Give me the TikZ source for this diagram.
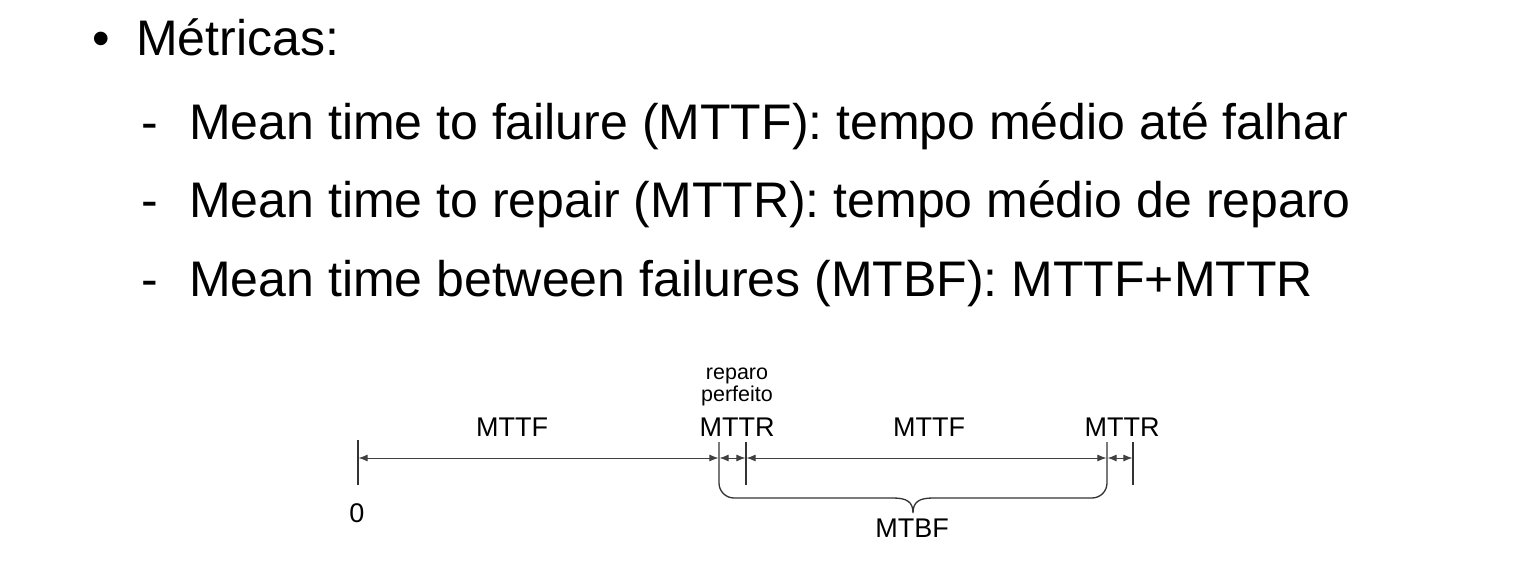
\documentclass[tikz,border=0pt]{standalone}
\usepackage{fontspec}
\setmainfont{Liberation Sans}
\usetikzlibrary{arrows.meta}
\begin{document}
\begin{tikzpicture}[x=1pt,y=-1pt,
  big/.style={inner sep=0pt,anchor=base west,font=\fontsize{50}{60}\selectfont},
  mark48/.style={inner sep=0pt,anchor=base,font=\fontsize{50}{60}\selectfont},
  lab/.style={inner sep=0pt,anchor=base,font=\fontsize{27}{32}\selectfont},
  small/.style={inner sep=0pt,anchor=base,font=\fontsize{21.5}{25}\selectfont},
  tick/.style={line width=1.3pt,draw=black!80},
  dim/.style={line width=0.9pt,draw=black!75,{Latex[length=9pt,width=7pt]}-{Latex[length=9pt,width=7pt]},shorten <=0.6pt,shorten >=0.6pt},
  brace/.style={line width=1.3pt,draw=black!80,rounded corners=15pt}]
\useasboundingbox (0,0) rectangle (1519,561);
% text
\node[mark48] (b0) at (101,56) {•};
\node[big] (t0) at (136,56) {Métricas:};
\node[mark48] (d1) at (150,140) {-};
\node[big] (t1) at (189,140) {Mean time to failure (MTTF): tempo médio até falhar};
\node[mark48] (d2) at (150,218) {-};
\node[big] (t2) at (189,218) {Mean time to repair (MTTR): tempo médio de reparo};
\node[mark48] (d3) at (150,297) {-};
\node[big] (t3) at (189,297) {Mean time between failures (MTBF): MTTF+MTTR};
% timeline coordinates
\coordinate (p0) at (358,458);
\coordinate (p1) at (719,458);
\coordinate (p2) at (746,458);
\coordinate (p3) at (1107,458);
\coordinate (p4) at (1133,458);
\coordinate (p0t) at (358,440);
\coordinate (p0b) at (358,485);
\coordinate (p1t) at (719,442);
\coordinate (p2t) at (746,442);
\coordinate (p2b) at (746,485);
\coordinate (p3t) at (1107,442);
\coordinate (p4t) at (1133,442);
\coordinate (p4b) at (1133,485);
\coordinate (bl) at (719,498);
\coordinate (br) at (1107,498);
\coordinate (btip) at (913,513);
% ticks
\draw[tick] (p0t) -- (p0b);
\draw[tick] (p2t) -- (p2b);
\draw[tick] (p4t) -- (p4b);
% brace with the two long ticks
\draw[brace] (p1t) -- (bl) -- (893,498);
\draw[line width=1.3pt,draw=black!80] (893,498) .. controls (907,498) and (913,502) .. (btip) .. controls (913,502) and (919,498) .. (933,498);
\draw[brace] (933,498) -- (br) -- (p3t);
% dimension arrows
\draw[dim] (p0) -- (p1);
\draw[dim] (p1) -- (p2);
\draw[dim] (p2) -- (p3);
\draw[dim] (p3) -- (p4);
% labels
\node[lab] (l1) at (512,436) {MTTF};
\node[small] (r1) at (737,380) {reparo};
\node[small] (r2) at (737,402) {perfeito};
\node[lab] (l2) at (737,436) {MTTR};
\node[lab] (l3) at (929,436) {MTTF};
\node[lab] (l4) at (1122,436) {MTTR};
\node[lab] (z0) at (357,522) {0};
\node[lab] (mb) at (912,537) {MTBF};
\end{tikzpicture}
\end{document}
